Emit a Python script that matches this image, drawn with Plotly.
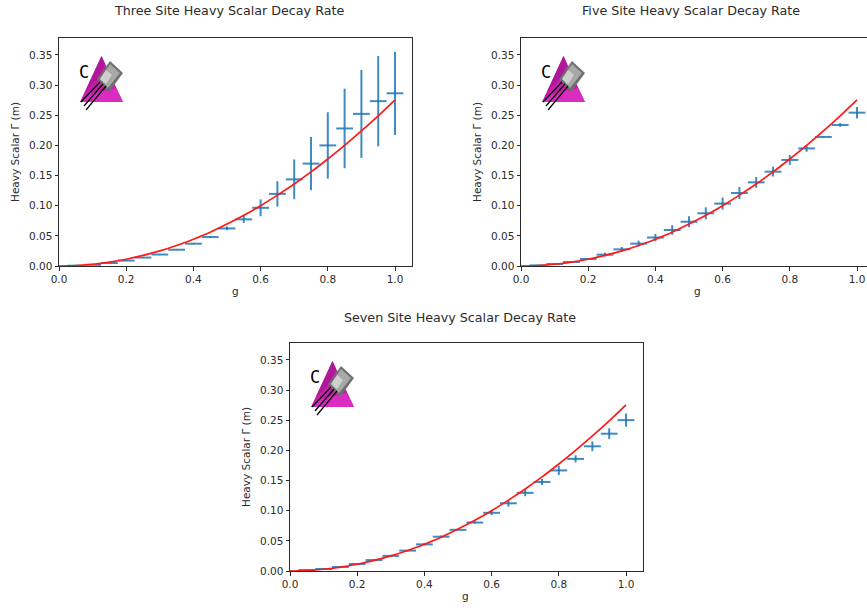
import plotly.graph_objects as go

W, H = 867, 608
g = [0.05, 0.10, 0.15, 0.20, 0.25, 0.30, 0.35, 0.40, 0.45, 0.50,
     0.55, 0.60, 0.65, 0.70, 0.75, 0.80, 0.85, 0.90, 0.95, 1.00]
theory_g = [0.0, 0.05, 0.10, 0.15, 0.20, 0.25, 0.30, 0.35, 0.40, 0.45, 0.50,
            0.55, 0.60, 0.65, 0.70, 0.75, 0.80, 0.85, 0.90, 0.95, 1.00]
theory = [0.0, 0.0007, 0.0029, 0.0064, 0.0112, 0.0175, 0.025, 0.034, 0.0445, 0.056, 0.0695,
          0.084, 0.100, 0.1175, 0.136, 0.156, 0.1775, 0.200, 0.224, 0.249, 0.2755]
g_half_width = [0.025] * 20

three_y = [0.0005, 0.002, 0.005, 0.009, 0.014, 0.019, 0.027, 0.037, 0.048, 0.0623,
           0.0774, 0.0965, 0.1196, 0.1437, 0.1698, 0.200, 0.2281, 0.2523, 0.2734, 0.2864]
three_err = [0.0002, 0.0003, 0.0004, 0.0005, 0.0005, 0.0006, 0.0007, 0.001, 0.0015, 0.003,
             0.006, 0.014, 0.021, 0.033, 0.044, 0.055, 0.066, 0.073, 0.075, 0.069]
five_y = [0.001, 0.0033, 0.0066, 0.0116, 0.0188, 0.0276, 0.0371, 0.0472, 0.0597, 0.0734,
          0.0874, 0.1035, 0.1211, 0.1387, 0.1564, 0.1759, 0.195, 0.214, 0.2339, 0.2543]
five_err = [0.0003, 0.0005, 0.0007, 0.001, 0.003, 0.004, 0.005, 0.006, 0.008, 0.009,
            0.01, 0.01, 0.01, 0.009, 0.008, 0.008, 0.0055, 0.001, 0.003, 0.0095]
seven_y = [0.0016, 0.0033, 0.0066, 0.0116, 0.0181, 0.0251, 0.0338, 0.0442, 0.0569, 0.0683,
           0.0804, 0.0965, 0.1123, 0.1296, 0.1477, 0.1668, 0.1859, 0.2068, 0.2277, 0.2502]
seven_err = [0.0002, 0.0003, 0.0004, 0.0005, 0.0006, 0.0007, 0.001, 0.002, 0.002, 0.001,
             0.002, 0.004, 0.0055, 0.0055, 0.005, 0.0075, 0.006, 0.008, 0.009, 0.011]

titles = ["Three Site Heavy Scalar Decay Rate", "Five Site Heavy Scalar Decay Rate", "Seven Site Heavy Scalar Decay Rate"]
x_ticks = [0.0, 0.2, 0.4, 0.6, 0.8, 1.0]
x_labels = ["0.0", "0.2", "0.4", "0.6", "0.8", "1.0"]
y_ticks = [0.0, 0.05, 0.10, 0.15, 0.20, 0.25, 0.30, 0.35]
y_labels = ["0.00", "0.05", "0.10", "0.15", "0.20", "0.25", "0.30", "0.35"]
x_title = "g"
y_title = "Heavy Scalar Γ (m)"

PXU = 336.0
PYU = 603.0
boxes = [(59, 412, 38, 266), (521, 867, 38, 266), (290, 643, 343, 571)]
title_px = [(229, 11), (691, 11), (460, 317)]
FONT = "DejaVu Sans"
INK = "#2b2b2b"

fig = go.Figure()
shapes, annotations = [], []


def px(x):
    return x / W


def py(y):
    return 1 - y / H


def poly(ox, oy, pts, fill, line=None, lw=0):
    path = "M " + " L ".join(f"{px(ox + a):.5f},{py(oy + b):.5f}" for a, b in pts) + " Z"
    shapes.append(dict(type="path", xref="paper", yref="paper", path=path, fillcolor=fill,
                       line=dict(color=line or fill, width=lw), layer="above"))


def seg(ox, oy, a, b, color="black", lw=1.2):
    shapes.append(dict(type="line", xref="paper", yref="paper", x0=px(ox + a[0]), y0=py(oy + a[1]),
                       x1=px(ox + b[0]), y1=py(oy + b[1]), line=dict(color=color, width=lw), layer="above"))


def text(s, x, y, size, angle=0, family=FONT, color=INK):
    annotations.append(dict(text=s, xref="paper", yref="paper", x=px(x), y=py(y), showarrow=False,
                            xanchor="center", yanchor="middle", textangle=angle,
                            font=dict(family=family, size=size, color=color)))


def logo(left, top):
    ox, oy = left + 21, top + 18
    poly(ox, oy, [(21.5, 0), (0, 46), (43, 46)], "#c51eaa")
    poly(ox, oy, [(21.5, 0), (5, 36), (19, 22), (25, 8)], "#b0189a")
    poly(ox, oy, [(10, 38), (36, 32), (43, 46), (0, 46)], "#da2cc0")
    poly(ox, oy, [(30, 5), (43, 17), (29, 36), (17, 23)], "#6f6f6f")
    poly(ox, oy, [(30, 8), (40, 17), (28, 32), (20, 23)], "#a8a8a8")
    poly(ox, oy, [(26, 14), (32, 19), (26, 28), (20, 23)], "#cfcfcf")
    seg(ox, oy, (20, 26), (1, 46))
    seg(ox, oy, (23, 28), (4, 50))
    seg(ox, oy, (26, 30), (6, 54))
    text("C", ox + 4, oy + 16, 17, family="DejaVu Sans Mono", color="black")


series = [(three_y, three_err), (five_y, five_err), (seven_y, seven_err)]
for i, (b, (vals, errs)) in enumerate(zip(boxes, series)):
    n = "" if i == 0 else str(i + 1)
    x0, x1, y0, y1 = b
    bar = "rgba(31,119,180,0.85)"
    fig.add_trace(go.Scatter(x=g, y=vals, mode="markers", marker=dict(size=2, opacity=0, color="#1f77b4"),
                             error_y=dict(type="data", array=errs, color=bar, thickness=2, width=0),
                             error_x=dict(type="data", array=g_half_width, color=bar, thickness=2, width=0),
                             xaxis="x" + n, yaxis="y" + n, showlegend=False))
    fig.add_trace(go.Scatter(x=theory_g, y=theory, mode="lines", line=dict(color="#ff1a1a", width=1.7, shape="spline"),
                             xaxis="x" + n, yaxis="y" + n, showlegend=False))
    fig.layout["xaxis" + n] = dict(
        domain=[px(x0), px(x1)], range=[0, (x1 - x0) / PXU], anchor="y" + n, tickvals=x_ticks, ticktext=x_labels,
        ticks="outside", ticklen=3.5, tickwidth=0.8, tickcolor=INK, showgrid=False, zeroline=False,
        showline=True, linecolor=INK, linewidth=1, mirror=True, automargin=False,
        tickfont=dict(family=FONT, size=10.5, color=INK))
    fig.layout["yaxis" + n] = dict(
        domain=[py(y1), py(y0)], range=[0, (y1 - y0) / PYU], anchor="x" + n, tickvals=y_ticks, ticktext=y_labels,
        ticks="outside", ticklen=3.5, tickwidth=0.8, tickcolor=INK, showgrid=False, zeroline=False,
        showline=True, linecolor=INK, linewidth=1, mirror=(i != 1), automargin=False,
        tickfont=dict(family=FONT, size=10.5, color=INK))
    text(titles[i], title_px[i][0], title_px[i][1], 12.7)
    text(x_title, x0 + 176, y1 + 25, 10.5)
    text(y_title, x0 - 44, (y0 + y1) / 2, 10.5, angle=-90)
    logo(x0, y0)

fig.update_layout(width=W, height=H, margin=dict(l=0, r=0, t=0, b=0), autosize=False,
                  plot_bgcolor="white", paper_bgcolor="white", shapes=shapes, annotations=annotations,
                  showlegend=False)
fig.write_html("out.html", config=dict(displayModeBar=False),
               post_script="document.body.style.margin='0';document.documentElement.style.overflow='hidden';")
